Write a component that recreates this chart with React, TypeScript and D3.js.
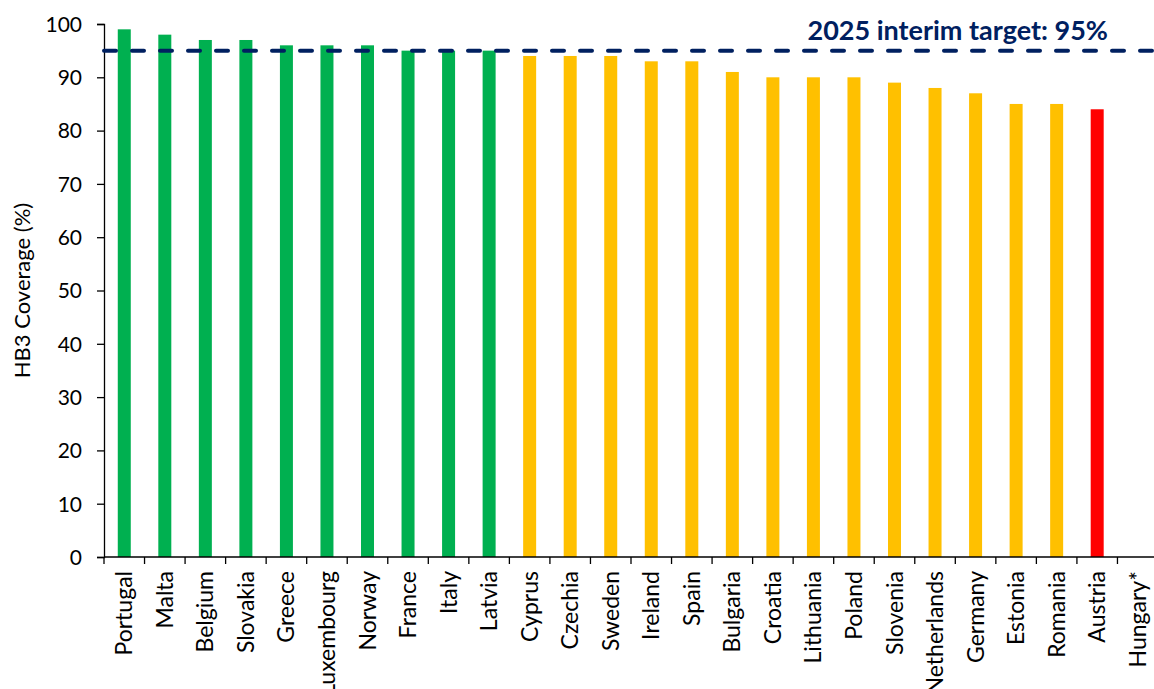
import React, { useEffect, useRef } from 'react';
import * as d3 from 'd3';

const countries = ['Portugal', 'Malta', 'Belgium', 'Slovakia', 'Greece', 'Luxembourg', 'Norway', 'France', 'Italy', 'Latvia',
  'Cyprus', 'Czechia', 'Sweden', 'Ireland', 'Spain', 'Bulgaria', 'Croatia', 'Lithuania', 'Poland', 'Slovenia',
  'Netherlands', 'Germany', 'Estonia', 'Romania', 'Austria', 'Hungary*'];
const coverage = [99, 98, 97, 97, 96, 96, 96, 95, 95, 95,
  94, 94, 94, 93, 93, 91, 90, 90, 90, 89,
  88, 87, 85, 85, 84, null];
const yTicks = [0, 10, 20, 30, 40, 50, 60, 70, 80, 90, 100];
const target = 95;
const targetLabel = '2025 interim target: 95%';

const W = 1154, H = 689;
const FONT = 'Lato, "Open Sans", sans-serif';

export default function App() {
  const ref = useRef<SVGSVGElement>(null);

  useEffect(() => {
    const svg = d3.select(ref.current);
    svg.selectAll('*').remove();

    const left = 104, top = 24, bottom = 557, right = 1158;
    const x = d3.scaleBand().domain(countries).range([left, right]).paddingInner(0).paddingOuter(0);
    const y = d3.scaleLinear().domain([0, 100]).range([bottom, top]);

    // colour by band against the target
    const color = (v: number) => v >= target ? '#00B050' : v >= 85 ? '#FFC000' : '#FF0000';

    const barW = 13;
    svg.append('g')
      .selectAll('rect')
      .data(countries.map((c, i) => ({ c, v: coverage[i] })).filter(d => d.v != null))
      .enter()
      .append('rect')
      .attr('x', d => x(d.c)! + x.bandwidth() / 2 - barW / 2)
      .attr('y', d => y(d.v as number))
      .attr('width', barW)
      .attr('height', d => bottom - y(d.v as number))
      .attr('fill', d => color(d.v as number));

    // y axis
    const yAxis = svg.append('g')
      .attr('transform', `translate(${left},0)`)
      .call(d3.axisLeft(y).tickValues(yTicks).tickSize(7).tickPadding(15));
    yAxis.select('.domain').attr('stroke', '#000').attr('stroke-width', 1.3);
    yAxis.selectAll('.tick line').attr('stroke', '#000').attr('stroke-width', 1.3);
    yAxis.selectAll('.tick text')
      .attr('font-family', FONT).attr('font-size', 21).attr('fill', '#000').attr('dy', '0.35em');

    // x axis with ticks on band boundaries
    svg.append('line')
      .attr('x1', left).attr('x2', W).attr('y1', bottom).attr('y2', bottom)
      .attr('stroke', '#000').attr('stroke-width', 1.3);
    svg.append('g')
      .selectAll('line')
      .data(countries)
      .enter()
      .append('line')
      .attr('x1', d => x(d)!).attr('x2', d => x(d)!)
      .attr('y1', bottom).attr('y2', bottom + 7)
      .attr('stroke', '#000').attr('stroke-width', 1.3);
    svg.append('g')
      .selectAll('text')
      .data(countries)
      .enter()
      .append('text')
      .attr('transform', d => `translate(${x(d)! + x.bandwidth() / 2 + 8},${bottom + 14}) rotate(-90)`)
      .attr('text-anchor', 'end')
      .attr('font-family', FONT).attr('font-size', 23).attr('fill', '#000')
      .text(d => d);

    // y title
    svg.append('text')
      .attr('transform', `translate(30,${(top + bottom) / 2}) rotate(-90)`)
      .attr('text-anchor', 'middle')
      .attr('font-family', FONT).attr('font-size', 22).attr('fill', '#000')
      .text('HB3 Coverage (%)');

    // target line
    svg.append('line')
      .attr('x1', left - 2).attr('x2', W).attr('y1', y(target)).attr('y2', y(target))
      .attr('stroke', '#002060').attr('stroke-width', 4)
      .attr('stroke-dasharray', '12 16').attr('stroke-linecap', 'round')
      .attr('stroke-dashoffset', -2);
    svg.append('text')
      .attr('x', 1108).attr('y', 40)
      .attr('text-anchor', 'end')
      .attr('font-family', FONT).attr('font-size', 27).attr('font-weight', 'bold').attr('fill', '#002060')
      .text(targetLabel);
  }, []);

  return (
    <svg ref={ref} width={W} height={H}
      style={{ position: 'absolute', left: 0, top: 0, background: '#fff', display: 'block' }} />
  );
}
